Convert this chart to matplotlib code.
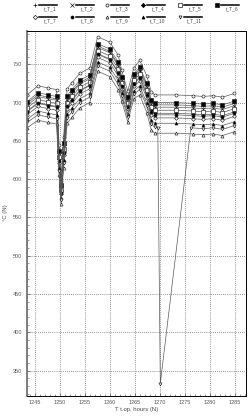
import numpy as np
import matplotlib
matplotlib.use('Agg')
import matplotlib.pyplot as plt

# time axis (operating hours)
t = [1243.5, 1245.7, 1247.7, 1249.4, 1249.9, 1250.3, 1250.8, 1251.5, 1252.5, 1254.0,
     1256.0, 1257.6, 1260.0, 1261.7, 1262.4, 1263.6, 1264.8, 1266.0, 1267.4, 1268.3,
     1269.0, 1273.2, 1276.6, 1278.6, 1280.6, 1282.5, 1284.9]
# t_T_11 has a sensor glitch around 1270 h
t11 = t[:21] + [1269.6, 1270.1, 1276.2, 1278.6, 1280.6, 1282.5, 1284.9]

tT1 = [699, 710, 707, 705, 635, 590, 645, 706, 714, 726, 733, 774, 767, 750, 732, 705, 735, 743, 723, 701, 697, 697, 696, 695, 696, 694, 699]
tT2 = [696, 708, 705, 703, 632, 588, 642, 704, 712, 724, 731, 772, 765, 748, 729, 702, 732, 741, 720, 698, 694, 694, 693, 692, 693, 691, 696]
tT3 = [710, 722, 719, 717, 645, 598, 655, 718, 726, 738, 745, 786, 779, 762, 742, 715, 745, 755, 735, 714, 710, 710, 709, 708, 709, 707, 712]
tT4 = [689, 700, 697, 695, 626, 584, 636, 696, 704, 716, 723, 764, 757, 740, 723, 696, 726, 733, 712, 690, 686, 686, 685, 684, 685, 683, 688]
tT5 = [693, 704, 701, 699, 629, 586, 639, 700, 708, 720, 727, 768, 761, 744, 726, 699, 729, 737, 716, 694, 690, 690, 689, 688, 689, 687, 692]
tT6 = [701, 713, 710, 708, 637, 592, 647, 709, 717, 729, 736, 777, 770, 753, 734, 707, 737, 746, 725, 704, 700, 700, 699, 698, 699, 697, 702]
tT7 = [684, 695, 692, 690, 621, 580, 631, 691, 699, 711, 718, 759, 752, 735, 718, 691, 721, 728, 706, 684, 680, 680, 679, 678, 679, 677, 682]
tT8 = [688, 699, 696, 694, 624, 582, 634, 695, 703, 715, 722, 763, 756, 739, 721, 694, 724, 732, 710, 688, 684, 684, 683, 682, 683, 681, 686]
tT9 = [667, 677, 674, 672, 605, 568, 615, 673, 681, 693, 700, 741, 734, 717, 702, 675, 705, 710, 687, 664, 660, 660, 659, 658, 659, 657, 662]
tT10 = [678, 689, 686, 684, 615, 576, 625, 685, 693, 705, 712, 753, 746, 729, 712, 685, 715, 722, 699, 677, 673, 673, 672, 671, 672, 670, 675]
tT11 = [674, 684, 681, 679, 611, 573, 621, 680, 688, 700, 707, 748, 741, 724, 708, 681, 711, 717, 695, 672, 668, 667, 333, 667, 666, 667, 665, 670]

labels = ['t_T_1', 't_T_2', 't_T_3', 't_T_4', 't_T_5', 't_T_6',
          't_T_7', 't_T_8', 't_T_9', 't_T_10', 't_T_11']
series = [(t, tT1), (t, tT2), (t, tT3), (t, tT4), (t, tT5), (t, tT6),
          (t, tT7), (t, tT8), (t, tT9), (t, tT10), (t11, tT11)]
# marker, filled?
styles = [('+', True), ('x', True), ('o', False), ('D', True), ('s', False), ('s', True),
          ('D', False), ('o', True), ('^', False), ('^', True), ('v', False)]

plt.rcParams['font.family'] = ['Liberation Sans', 'DejaVu Sans']

fig = plt.figure(figsize=(2.5, 4.19), dpi=100)
ax = fig.add_axes([0.108, 0.056, 0.876, 0.871])

for (x, y), (m, filled), lab in zip(series, styles, labels):
    ms = 2.2 if m != 'D' else 1.9
    ax.plot(x, y, color='0.35', lw=0.5, marker=m, ms=ms, mew=0.45,
            mfc='black' if filled else 'white', mec='0.1', label=lab)

ax.set_xlim(1243.5, 1287.2)
ax.set_ylim(317.5, 794)
ax.set_xticks(np.arange(1245, 1286, 5))
ax.set_yticks(np.arange(350, 751, 50))
ax.set_xticks(np.arange(1244, 1288, 1), minor=True)
ax.set_yticks(np.arange(320, 791, 10), minor=True)
ax.tick_params(which='both', direction='in', labelsize=4, labelcolor='0.35', color='0.3')
ax.tick_params(which='major', length=2, width=0.5)
ax.tick_params(which='minor', length=1.2, width=0.4)
ax.grid(True, which='major', color='0.2', ls=(0, (1, 2)), lw=0.5)
for s in ax.spines.values():
    s.set_linewidth(0.7)
ax.spines['left'].set_color('0.45')
ax.spines['left'].set_linewidth(1.3)
ax.set_xlabel('T t.op. hours (N)', fontsize=4.3, color='0.3', labelpad=1)
ax.set_ylabel('°C (N)', fontsize=4.3, color='0.3', labelpad=3)

# legend block above the plot, in pixel-like units
lax = fig.add_axes([0, 0.93, 1, 0.07])
lax.set_xlim(0, 250)
lax.set_ylim(29, 0)
lax.axis('off')
colx = [35, 72, 107, 143, 180, 217]
for i, ((m, filled), lab) in enumerate(zip(styles, labels)):
    r, c = divmod(i, 6)
    x0 = colx[c]
    y0 = 5 + r * 11.5
    lax.plot([x0 + 4, x0 + 22], [y0, y0], color='black', lw=1.1)
    lax.plot([x0], [y0], marker=m, ms=2.2, mew=0.45, color='black',
             mfc='black' if filled else 'white', mec='black')
    lax.text(x0 + 22, y0 + 1.5, lab, fontsize=3.6, color='0.3', ha='right', va='top')

fig.savefig('out.png', dpi=100)
